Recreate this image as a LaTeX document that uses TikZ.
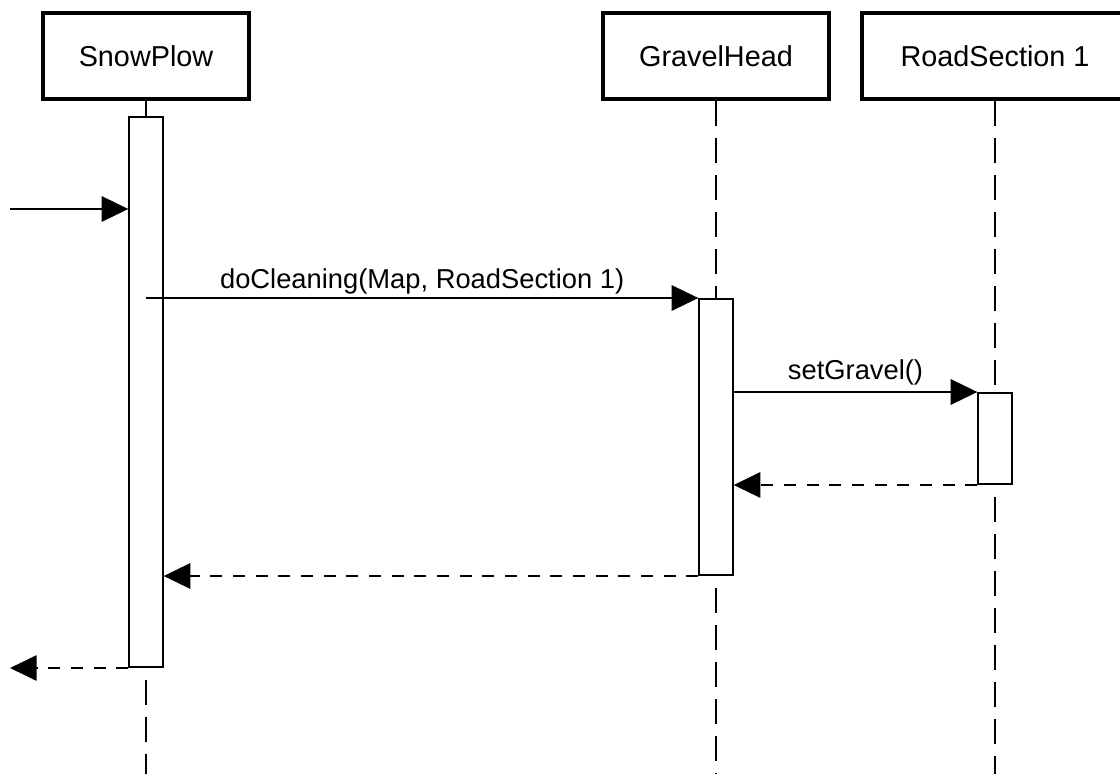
\documentclass[tikz,border=0pt]{standalone}
\usepackage{fontspec}
\setmainfont{Liberation Sans}
\usetikzlibrary{arrows.meta, positioning}

\begin{document}
\begin{tikzpicture}[x=0.75pt, y=-0.75pt,
  lifehead/.style={draw, line width=3pt, minimum height=65pt, inner sep=0pt, font=\fontsize{21.6}{25}\selectfont},
  actbar/.style={draw, fill=white, line width=1.5pt, minimum width=25pt, inner sep=0pt},
  lifeline/.style={line width=1.5pt, dash pattern=on 18.75pt off 9pt},
  callmsg/.style={line width=1.5pt, -{Triangle[length=20pt,width=19pt]}},
  retmsg/.style={callmsg, dash pattern=on 9pt off 8pt},
  msglabel/.style={font=\fontsize{20.5}{24}\selectfont, anchor=base}]
\clip (0,0) rectangle (1120,774);
% object heads
\node [lifehead, minimum width=154.5pt] (plow)   at (146,56)   {SnowPlow};
\node [lifehead, minimum width=170pt]   (gravel) at (716,56)   {GravelHead};
\node [lifehead, minimum width=199.5pt] (road)   at (995,56)   {RoadSection 1};
% activations
\node [actbar, minimum height=412.5pt] (plowbar)   at (146,392)   {};
\node [actbar, minimum height=207pt]   (gravelbar) at (716,437)   {};
\node [actbar, minimum height=68.25pt] (roadbar)   at (995,438.5) {};
% lifelines
\coordinate (plowend)   at (146,774);
\coordinate (gravelend) at (716,774);
\coordinate (roadend)   at (995,774);
\draw [line width=1.5pt] (plow.south) -- (plowbar.north);
\draw [lifeline, dash phase=18.75pt] (plowbar.south) -- (plowend);
\draw [lifeline] (gravel.south) -- (gravelbar.north);
\draw [lifeline, dash phase=18.75pt] (gravelbar.south) -- (gravelend);
\draw [lifeline] (road.south) -- (roadbar.north);
\draw [lifeline, dash phase=18.75pt] (roadbar.south) -- (roadend);
% messages
\coordinate (entry) at (10,209);
\coordinate (exit)  at (10,667);
\draw [callmsg] (entry) -- (entry -| plowbar.west);
\draw [callmsg] (plowbar.north |- gravelbar.north) -- (gravelbar.north west)
  node [msglabel, midway, yshift=7.5pt] {doCleaning(Map, RoadSection 1)};
\draw [callmsg] (gravelbar.east |- roadbar.north) -- (roadbar.north west)
  node [msglabel, midway, yshift=9.5pt] {setGravel()};
\draw [retmsg] (roadbar.south west) -- (gravelbar.east |- roadbar.south);
\draw [retmsg] (gravelbar.south west) -- (plowbar.east |- gravelbar.south);
\draw [retmsg] (plowbar.south west) -- (plowbar.south west -| exit);
\end{tikzpicture}
\end{document}
